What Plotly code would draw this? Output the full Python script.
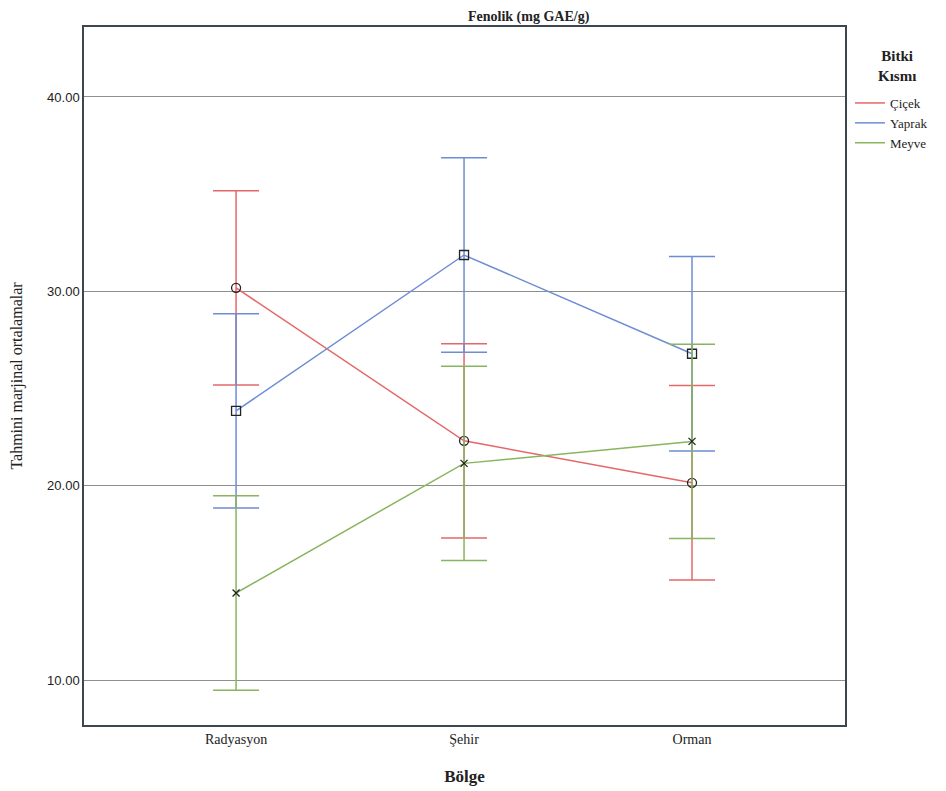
import plotly.graph_objects as go

categories = ["Radyasyon", "Şehir", "Orman"]
series_names = ["Çiçek", "Yaprak", "Meyve"]
cicek = [30.18, 22.31, 20.15]
yaprak = [23.85, 31.87, 26.79]
meyve = [14.48, 21.15, 22.28]
ci_half = [5.0, 5.0, 5.0]

colors = {"Çiçek": "#E5676A", "Yaprak": "#6E8CD5", "Meyve": "#88B55E"}
symbols = {"Çiçek": "circle-open", "Yaprak": "square-open", "Meyve": "x-thin-open"}
values = {"Çiçek": cicek, "Yaprak": yaprak, "Meyve": meyve}

xpos = list(range(len(categories)))
fig = go.Figure()

for name in series_names:
    fig.add_trace(go.Scatter(
        x=xpos, y=values[name], mode="lines+markers",
        line=dict(color=colors[name], width=1.5),
        marker=dict(symbol=symbols[name], size=9 if name != "Meyve" else 7,
                    color="#222222", line=dict(color="#222222", width=1.3)),
        error_y=dict(type="data", array=ci_half, visible=True,
                     color=colors[name], thickness=1.5, width=23),
        showlegend=False, name=name,
    ))

for name in series_names:
    fig.add_trace(go.Scatter(
        x=[None], y=[None], mode="lines", name=name,
        line=dict(color=colors[name], width=1.5), showlegend=True,
    ))

serif = "Liberation Serif, Times New Roman, serif"
OFF = 8  # page body margin
W, H = 946 - OFF, 791 - OFF
L, R, T, B = 84 - OFF, 845 - OFF, 27 - OFF, 725 - OFF


def px_x(x):
    return (x - OFF - L) / (R - L)


def px_y(y):
    return (B - (y - OFF)) / (B - T)


fig.update_layout(
    width=W, height=H,
    margin=dict(l=L, r=W - R, t=T, b=H - B, autoexpand=False),
    plot_bgcolor="white", paper_bgcolor="white",
    font=dict(family=serif, size=13, color="#222222"),
    showlegend=True,
    legend=dict(
        x=px_x(850), y=px_y(88), xanchor="left", yanchor="top",
        font=dict(family=serif, size=13, color="#222222"),
        itemwidth=30, tracegroupgap=0, bgcolor="rgba(0,0,0,0)",
    ),
    annotations=[
        dict(text="<b>Fenolik (mg GAE/g)</b>", x=px_x(529), xref="paper",
             y=px_y(17), yref="paper", yanchor="middle", showarrow=False, borderpad=0,
             font=dict(family=serif, size=14, color="#222222")),
        dict(text="<b>Bitki<br>Kısmı</b>", x=px_x(897), xref="paper",
             y=px_y(66), yref="paper", yanchor="middle", xanchor="center",
             showarrow=False, borderpad=0, align="center",
             font=dict(family=serif, size=15, color="#222222")),
    ],
)

fig.update_xaxes(
    tickmode="array", tickvals=xpos, ticktext=categories,
    range=[-0.667, 2.671], showgrid=False, zeroline=False,
    showline=True, linecolor="#3a4650", linewidth=1.5, mirror=True,
    ticks="", tickfont=dict(family=serif, size=14), automargin=False,
    title=dict(text="<b>Bölge</b>", font=dict(family=serif, size=17), standoff=25),
)
fig.update_yaxes(
    range=[7.69, 43.6], tickvals=[10, 20, 30, 40], tickformat=".2f",
    showgrid=True, gridcolor="#8f8f8f", gridwidth=1, zeroline=False,
    showline=True, linecolor="#3a4650", linewidth=1.5, mirror=True,
    ticks="", tickfont=dict(family="Liberation Sans Narrow, Arial Narrow, sans-serif", size=13),
    automargin=False,
    title=dict(text="Tahmini marjinal ortalamalar", font=dict(family=serif, size=16), standoff=24),
)

fig.write_html("out.html")
